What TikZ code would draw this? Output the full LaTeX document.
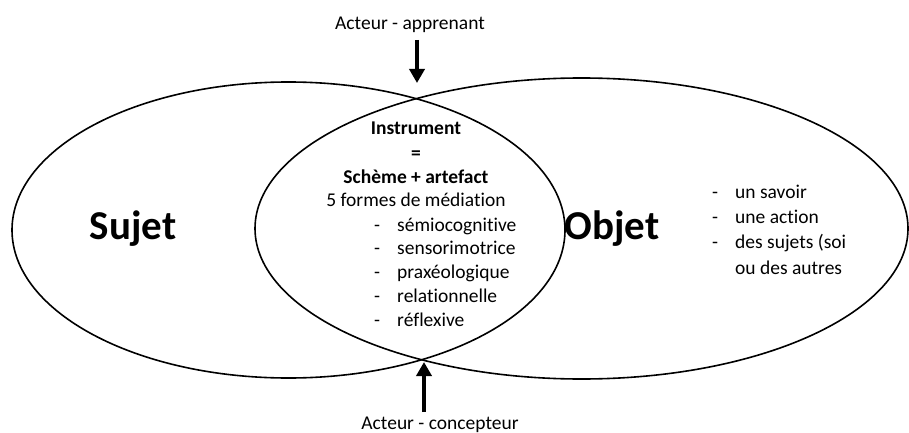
\documentclass[tikz,border=0pt]{standalone}
\usepackage{fontspec}
\setmainfont{Carlito}[Ligatures=NoCommon]
\usetikzlibrary{arrows.meta}
\begin{document}
\begin{tikzpicture}[x=1pt,y=-1pt,
  ell/.style={draw=black,line width=1.6pt},
  txt/.style={inner sep=0pt,font=\fontsize{19.5}{24}\selectfont},
  btxt/.style={inner sep=0pt,anchor=base,font=\fontsize{19.5}{24}\selectfont\bfseries},
  big/.style={inner sep=0pt,font=\fontsize{41}{48}\selectfont\bfseries},
  lst/.style={inner sep=0pt,anchor=base west,font=\fontsize{19.5}{24}\selectfont},
  bigarrow/.style={line width=3.8pt,-{Triangle[length=14pt,width=15pt]}}]
\useasboundingbox (0,0) rectangle (909,433);
\fill[white] (0,0) rectangle (909,433);
% ellipses
\draw[ell] (288.5,230) ellipse [x radius=276.5pt, y radius=148pt];
\draw[ell] (581.5,228.5) ellipse [x radius=326.5pt, y radius=150.5pt];
\coordinate (tx) at (417,98);
\coordinate (bx) at (424,360);
% big labels
\node[big] (sujet) at (133,229) {Sujet};
\node[big] (objet) at (612,229) {Objet};
% top / bottom labels
\node[txt,anchor=base] (appr) at (410,30) {Acteur - apprenant};
\node[txt,anchor=base] (conc) at (440,429) {Acteur - concepteur};
\draw[bigarrow] (tx |- 0,40) -- (tx |- 0,83);
\draw[bigarrow] (bx |- 0,412) -- (bx |- 0,362);
% center text
\node[btxt] (instr) at (416,134) {Instrument};
\node[btxt] (eq) at (416,159) {=};
\node[btxt] (scheme) at (416,183) {Schème + artefact};
\node[txt,anchor=base] (formes) at (416,206.5) {5 formes de médiation};
\foreach \n/\y/\t in {m1/231/sémiocognitive, m2/254.75/sensorimotrice, m3/278.5/praxéologique, m4/302.25/relationnelle, m5/326/réflexive}{
  \node[lst] (\n) at (397,\y) {\t};
  \node[lst] (\n d) at (\n.base -| 374,0) {-};
}
% right list
\foreach \n/\y/\t in {o1/198/un savoir, o2/223.3/une action, o3/248.6/des sujets (soi, o4/274/ou des autres}{
  \node[lst] (\n) at (735,\y) {\t};
}
\foreach \n in {o1,o2,o3}{
  \node[lst] (\n d) at (\n.base -| 712,0) {-};
}
\end{tikzpicture}
\end{document}
